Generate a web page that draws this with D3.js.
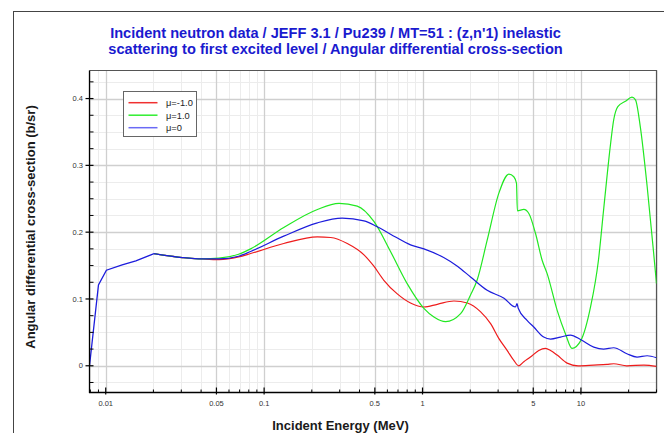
<!DOCTYPE html>
<html>
<head>
<meta charset="utf-8">
<script src="https://cdn.jsdelivr.net/npm/d3@7/dist/d3.min.js"></script>
<style>
  html, body { margin: 0; padding: 0; background: #fff; }
  svg { display: block; font-family: "Liberation Sans", Arial, sans-serif; }
</style>
</head>
<body>
<svg id="chart" width="664" height="433"></svg>
<script>
// Pu239 MT=51 angular differential cross-section (b/sr) vs incident energy (MeV)

// Low-energy part just above threshold, identical for all three cosines
const headEnergy = [0.0079, 0.009, 0.0101, 0.0127, 0.0155, 0.0202];
const headXS     = [0.0, 0.121, 0.143, 0.151, 0.157, 0.168];

// mu = -1.0 (backward)
const backEnergy = [0.0202, 0.0305, 0.0407, 0.0519, 0.069, 0.0822, 0.133, 0.217, 0.263, 0.335, 0.427, 0.493, 0.57, 0.69, 0.84, 1.02, 1.24, 1.58, 1.92, 2.32, 2.69, 3.03, 3.42, 3.77, 4.05, 4.36, 4.8, 5.42, 5.97, 6.43, 7.08, 8.18, 9.6, 12.05, 14.6, 16.1, 19.5, 25.0, 30.0];
const backXS     = [0.168, 0.162, 0.160, 0.159, 0.163, 0.168, 0.183, 0.193, 0.192, 0.183, 0.166, 0.149, 0.128, 0.108, 0.094, 0.088, 0.092, 0.097, 0.094, 0.081, 0.063, 0.041, 0.023, 0.008, 0.0, 0.006, 0.013, 0.023, 0.026, 0.023, 0.016, 0.004, 0.0, 0.001, 0.002, 0.003, 0.0, 0.001, -0.001];

// mu = 1.0 (forward)
const fwdEnergy = [0.0202, 0.0305, 0.0407, 0.0519, 0.069, 0.0822, 0.133, 0.217, 0.297, 0.387, 0.493, 0.628, 0.80, 1.02, 1.18, 1.40, 1.74, 2.01, 2.21, 2.56, 3.03, 3.51, 3.77, 3.92, 3.97, 4.36, 4.69, 5.17, 5.69, 6.12, 7.08, 7.98, 8.79, 10.0, 11.5, 12.9, 13.9, 15.4, 16.1, 17.1, 19.1, 21.0, 22.1, 23.7, 26.2, 28.8, 30.0];
const fwdXS     = [0.168, 0.162, 0.160, 0.161, 0.167, 0.175, 0.207, 0.234, 0.243, 0.239, 0.216, 0.171, 0.123, 0.086, 0.073, 0.066, 0.078, 0.106, 0.128, 0.188, 0.258, 0.287, 0.283, 0.273, 0.232, 0.234, 0.228, 0.198, 0.158, 0.138, 0.083, 0.048, 0.026, 0.038, 0.088, 0.158, 0.233, 0.333, 0.368, 0.388, 0.396, 0.402, 0.398, 0.358, 0.268, 0.168, 0.123];

// mu = 0 (perpendicular)
const perpEnergy = [0.0202, 0.0305, 0.0407, 0.0519, 0.069, 0.0822, 0.133, 0.217, 0.311, 0.427, 0.518, 0.628, 0.84, 1.02, 1.36, 1.66, 2.01, 2.56, 3.27, 3.86, 3.95, 4.02, 4.57, 5.04, 5.82, 6.43, 7.43, 8.59, 10.0, 12.05, 13.9, 16.1, 19.5, 22.6, 26.2, 30.0];
const perpXS     = [0.168, 0.162, 0.160, 0.160, 0.164, 0.171, 0.194, 0.214, 0.221, 0.217, 0.208, 0.197, 0.181, 0.175, 0.162, 0.149, 0.133, 0.113, 0.101, 0.088, 0.093, 0.086, 0.068, 0.058, 0.043, 0.040, 0.043, 0.046, 0.039, 0.028, 0.025, 0.027, 0.018, 0.013, 0.015, 0.012];

const seriesNames  = ["μ=-1.0", "μ=1.0", "μ=0"];
const seriesColors = ["#ee1c1c", "#22e822", "#1c1cdc"];
const legendColors = ["#f03030", "#30ee30", "#6a6af5"];

const xTickValues = [0.01, 0.05, 0.1, 0.5, 1, 5, 10];
const xTickLabels = ["0.01", "0.05", "0.1", "0.5", "1", "5", "10"];
const yTickValues = [0, 0.1, 0.2, 0.3, 0.4];
const yTickLabels = ["0", "0.1", "0.2", "0.3", "0.4"];

const titleLines = [
  "Incident neutron data / JEFF 3.1 / Pu239 / MT=51 : (z,n'1) inelastic",
  "scattering to first excited level / Angular differential cross-section"
];
const xTitle = "Incident Energy (MeV)";
const yTitle = "Angular differential cross-section (b/sr)";

const svg = d3.select("#chart");
const plot = { left: 89.5, right: 656.5, top: 70.5, bottom: 392.5 };

const x = d3.scaleLog().domain([0.0079, 30]).range([plot.left, plot.right]);
const y = d3.scaleLinear().domain([-0.04, 0.442]).range([plot.bottom, plot.top]);

// outer frame
svg.append("rect")
  .attr("x", 13.5).attr("y", 11.5)
  .attr("width", 700).attr("height", 500)
  .attr("fill", "none").attr("stroke", "#444").attr("stroke-width", 1);

// title
svg.append("g").selectAll("text").data(titleLines).join("text")
  .attr("x", 335.5).attr("y", (d, i) => 37.5 + i * 16.5)
  .attr("text-anchor", "middle")
  .attr("font-size", "14.6px").attr("font-weight", "bold")
  .attr("fill", "#1a1acf")
  .text(d => d);

// grid values
const xMinor = [];
for (let dec = -3; dec <= 1; dec++) {
  for (let m = 1; m <= 9; m++) {
    const v = m * Math.pow(10, dec);
    if (v >= 0.0079 && v <= 30 && !xTickValues.some(t => Math.abs(t - v) / t < 1e-9)) xMinor.push(v);
  }
}
const yMinor = d3.range(-0.025, 0.44, 0.025).filter(v => Math.abs(v / 0.1 - Math.round(v / 0.1)) > 1e-6);

const grid = svg.append("g");
grid.selectAll(".vxm").data(xMinor).join("line")
  .attr("x1", d => Math.round(x(d)) + 0.5).attr("x2", d => Math.round(x(d)) + 0.5)
  .attr("y1", plot.top).attr("y2", plot.bottom)
  .attr("stroke", "#ececec").attr("stroke-width", 1);
grid.selectAll(".hym").data(yMinor).join("line")
  .attr("x1", plot.left).attr("x2", plot.right)
  .attr("y1", d => Math.round(y(d)) + 0.5).attr("y2", d => Math.round(y(d)) + 0.5)
  .attr("stroke", "#ececec").attr("stroke-width", 1);
grid.selectAll(".vx").data(xTickValues).join("line")
  .attr("x1", d => Math.round(x(d)) + 0.5).attr("x2", d => Math.round(x(d)) + 0.5)
  .attr("y1", plot.top).attr("y2", plot.bottom)
  .attr("stroke", "#cfcfcf").attr("stroke-width", 1.3);
grid.selectAll(".hy").data(yTickValues).join("line")
  .attr("x1", plot.left).attr("x2", plot.right)
  .attr("y1", d => Math.round(y(d)) + 0.5).attr("y2", d => Math.round(y(d)) + 0.5)
  .attr("stroke", "#cfcfcf").attr("stroke-width", 1.3);

// top and right border of the plot area
svg.append("path")
  .attr("d", `M${plot.left},${plot.top}H${plot.right}V${plot.bottom}`)
  .attr("fill", "none").attr("stroke", "#555").attr("stroke-width", 1.2);

// curves: linear rise near threshold, smooth afterwards
const clipId = "plotclip";
svg.append("clipPath").attr("id", clipId).append("rect")
  .attr("x", plot.left).attr("y", plot.top)
  .attr("width", plot.right - plot.left).attr("height", plot.bottom - plot.top);

const headLine = d3.line().x((d, i) => x(headEnergy[i])).y((d, i) => y(headXS[i])).curve(d3.curveLinear);
const tailLine = d3.line().x(d => x(d[0])).y(d => y(d[1])).curve(d3.curveMonotoneX);

const curves = svg.append("g").attr("clip-path", `url(#${clipId})`);
const tails = [
  d3.zip(backEnergy, backXS),
  d3.zip(fwdEnergy, fwdXS),
  d3.zip(perpEnergy, perpXS)
];
tails.forEach((pts, k) => {
  curves.append("path").attr("d", tailLine(pts))
    .attr("fill", "none").attr("stroke", seriesColors[k]).attr("stroke-width", 1.2);
});
curves.append("path").attr("d", headLine(headEnergy))
  .attr("fill", "none").attr("stroke", seriesColors[2]).attr("stroke-width", 1.3);

// axes
const axes = svg.append("g");
axes.append("line").attr("x1", plot.left).attr("x2", plot.left)
  .attr("y1", plot.top).attr("y2", plot.bottom + 0.5)
  .attr("stroke", "#000").attr("stroke-width", 1.3);
axes.append("line").attr("x1", plot.left - 0.5).attr("x2", plot.right)
  .attr("y1", plot.bottom).attr("y2", plot.bottom)
  .attr("stroke", "#000").attr("stroke-width", 1.3);

// x ticks
axes.selectAll(".xminor").data(xMinor).join("line")
  .attr("x1", d => x(d)).attr("x2", d => x(d))
  .attr("y1", plot.bottom - 3).attr("y2", plot.bottom)
  .attr("stroke", "#000").attr("stroke-width", 1);
axes.selectAll(".xmajor").data(xTickValues).join("line")
  .attr("x1", d => x(d)).attr("x2", d => x(d))
  .attr("y1", plot.bottom - 5).attr("y2", plot.bottom + 2)
  .attr("stroke", "#000").attr("stroke-width", 1.2);
axes.selectAll(".xlab").data(xTickValues).join("text")
  .attr("x", d => x(d)).attr("y", 406)
  .attr("text-anchor", "middle")
  .attr("font-size", "7.5px").attr("fill", "#333")
  .text((d, i) => xTickLabels[i]);

// y ticks
axes.selectAll(".yminor").data(yMinor).join("line")
  .attr("x1", plot.left).attr("x2", plot.left + 4)
  .attr("y1", d => y(d)).attr("y2", d => y(d))
  .attr("stroke", "#000").attr("stroke-width", 1);
axes.selectAll(".ymajor").data(yTickValues).join("line")
  .attr("x1", plot.left - 4).attr("x2", plot.left + 4)
  .attr("y1", d => y(d)).attr("y2", d => y(d))
  .attr("stroke", "#000").attr("stroke-width", 1.2);
axes.selectAll(".ylab").data(yTickValues).join("text")
  .attr("x", 83).attr("y", d => y(d) + 2.7)
  .attr("text-anchor", "end")
  .attr("font-size", "7.5px").attr("fill", "#333")
  .text((d, i) => yTickLabels[i]);

// axis titles
svg.append("text")
  .attr("x", 340.5).attr("y", 429.5)
  .attr("text-anchor", "middle")
  .attr("font-size", "13px").attr("font-weight", "bold").attr("fill", "#1a1a1a")
  .text(xTitle);
svg.append("text")
  .attr("transform", "translate(35,227) rotate(-90)")
  .attr("text-anchor", "middle")
  .attr("font-size", "13px").attr("font-weight", "bold").attr("fill", "#1a1a1a")
  .text(yTitle);

// legend
const legend = svg.append("g");
legend.append("rect")
  .attr("x", 123.5).attr("y", 91.5).attr("width", 73).attr("height", 45)
  .attr("fill", "#fff").attr("stroke", "#666").attr("stroke-width", 1);
const rows = legend.selectAll(".row").data(seriesNames).join("g")
  .attr("transform", (d, i) => `translate(0,${102.7 + i * 12.5})`);
rows.append("line")
  .attr("x1", 128.5).attr("x2", 157.5).attr("y1", 0).attr("y2", 0)
  .attr("stroke", (d, i) => legendColors[i]).attr("stroke-width", 1.5);
rows.append("text")
  .attr("x", 166).attr("y", 3.3)
  .attr("font-size", "9.3px").attr("fill", "#222")
  .text(d => d);
</script>
</body>
</html>
